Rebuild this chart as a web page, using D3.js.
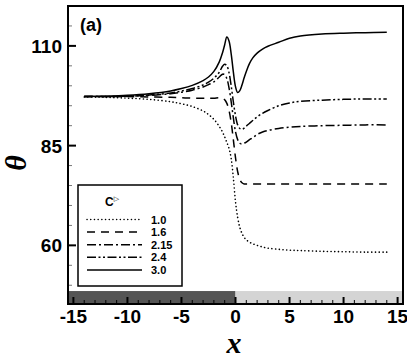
<!DOCTYPE html>
<html><head><meta charset="utf-8">
<script src="https://cdn.jsdelivr.net/npm/d3@7"></script>
<style>
html,body{margin:0;padding:0;background:#fff;}
svg{display:block;}
text{font-family:"Liberation Sans",Arial,sans-serif;}
</style></head>
<body>
<svg id="chart" width="407" height="361"></svg>
<script>
// ---- data ----
const xs = [-14,-12,-10,-8,-6,-5,-4,-3,-2.5,-2,-1.5,-1.2,-1,-0.8,-0.6,-0.4,-0.2,0,0.2,0.4,0.6,0.8,1,1.3,1.6,2,2.5,3,4,5,6,8,10,12,14];
const c10  = [97.2,97.1,96.9,96.6,96.0,95.5,94.8,93.7,92.8,91.6,89.8,88.4,87.2,85.8,84.3,81.8,77.0,71.0,67.0,64.5,63.0,62.0,61.4,60.8,60.4,60.0,59.6,59.3,59.0,58.8,58.7,58.5,58.4,58.3,58.3];
const c16  = [97.3,97.3,97.3,97.2,97.1,97.0,96.9,96.9,96.9,96.9,97.0,96.9,96.5,95.6,93.8,90.8,86.5,82.0,78.5,76.5,75.7,75.4,75.4,75.4,75.4,75.4,75.4,75.4,75.4,75.4,75.4,75.4,75.4,75.4,75.4];
const c215 = [97.3,97.3,97.4,97.6,98.0,98.4,98.9,99.7,100.3,101.0,102.2,102.9,102.8,101.8,99.5,96.0,92.0,88.5,86.5,85.6,85.4,85.6,85.9,86.5,87.0,87.8,88.4,88.8,89.3,89.6,89.8,90.0,90.1,90.2,90.2];
const c24  = [97.3,97.3,97.4,97.7,98.2,98.7,99.3,100.2,100.9,101.9,103.4,104.9,105.4,105.0,103.3,100.0,96.0,92.5,90.2,89.3,89.1,89.4,89.9,90.6,91.3,92.2,93.1,93.8,95.0,95.7,96.1,96.4,96.6,96.7,96.7];
const c30  = [97.3,97.4,97.6,98.0,98.7,99.3,100.1,101.3,102.2,103.6,106.0,108.3,110.3,112.2,111.2,108.0,103.5,99.8,98.3,98.8,100.2,102.0,103.6,105.6,107.0,108.2,109.2,109.9,110.9,111.9,112.5,113.0,113.2,113.3,113.4];
const seriesNames = ["1.0","1.6","2.15","2.4","3.0"];
const seriesValues = [c10,c16,c215,c24,c30];
const dashes = ["0.1,3.6","8,6","9,3,2,3","9,2.5,2,2.5,2,2.5",null];
const xTicks = [-15,-10,-5,0,5,10,15];
const yTicks = [60,85,110];

// ---- layout ----
const L=68, R=403, T=6, B=304;
const x = d3.scaleLinear().domain([-15.5,15.5]).range([L,R]);
const y = d3.scaleLinear().domain([45.3,120]).range([B,T]);
const svg = d3.select("#chart");

// band at bottom
const bandTop = y(48.55);
svg.append("rect").attr("x",L).attr("y",bandTop).attr("width",x(0)-L).attr("height",B-bandTop).attr("fill","#555555");
svg.append("rect").attr("x",x(0)).attr("y",bandTop).attr("width",R-x(0)).attr("height",B-bandTop).attr("fill","#d4d4d4");

// curves
const line = d3.line().x((d,i)=>x(xs[i])).y(d=>y(d)).curve(d3.curveCatmullRom.alpha(0.5));
seriesValues.forEach((vals,k)=>{
  svg.append("path").datum(vals).attr("d",line).attr("fill","none")
    .attr("stroke","#000").attr("stroke-width",k===0?1.6:1.5)
    .attr("stroke-linecap",k===0?"round":"butt")
    .attr("stroke-dasharray",dashes[k]);
});

// minor ticks x (inward)
const xMinor = d3.range(-15,15.01,1).filter(v=>v%5!==0);
svg.append("g").selectAll("line").data(xMinor).join("line")
  .attr("x1",d=>x(d)).attr("x2",d=>x(d)).attr("y1",B).attr("y2",B-4)
  .attr("stroke","#000").attr("stroke-width",1);
svg.append("g").selectAll("line").data(xTicks).join("line")
  .attr("x1",d=>x(d)).attr("x2",d=>x(d)).attr("y1",B).attr("y2",B-7)
  .attr("stroke","#000").attr("stroke-width",2);
// y ticks
const yMinor = d3.range(50,120,5).filter(v=>!yTicks.includes(v));
svg.append("g").selectAll("line").data(yMinor).join("line")
  .attr("x1",L).attr("x2",L+4).attr("y1",d=>y(d)).attr("y2",d=>y(d))
  .attr("stroke","#777").attr("stroke-width",1);
svg.append("g").selectAll("line").data(yTicks).join("line")
  .attr("x1",L).attr("x2",L+8).attr("y1",d=>y(d)).attr("y2",d=>y(d))
  .attr("stroke","#000").attr("stroke-width",2);

// frame
svg.append("rect").attr("x",L).attr("y",T).attr("width",R-L).attr("height",B-T)
  .attr("fill","none").attr("stroke","#000").attr("stroke-width",2);

// tick labels
svg.append("g").selectAll("text").data(xTicks).join("text")
  .attr("x",d=>x(d)).attr("y",323).attr("text-anchor","middle")
  .attr("font-size",19).attr("font-weight","bold").text(d=>d);
svg.append("g").selectAll("text").data(yTicks).join("text")
  .attr("x",62).attr("y",d=>y(d)+7).attr("text-anchor","end")
  .attr("font-size",19).attr("font-weight","bold").text(d=>d);

// axis titles
svg.append("text").attr("x",234).attr("y",353).attr("text-anchor","middle")
  .style("font-family","'Liberation Serif','Times New Roman',serif")
  .attr("font-size",30).attr("font-style","italic").attr("font-weight","bold").text("x");
svg.append("text").attr("transform","translate(26,163) rotate(-90)").attr("text-anchor","middle")
  .style("font-family","'Liberation Serif','Times New Roman',serif")
  .attr("font-size",30).attr("font-style","italic").attr("font-weight","bold").text("θ");

// panel label
svg.append("text").attr("x",80).attr("y",31).attr("font-size",18).attr("font-weight","bold").text("(a)");

// legend
const lg = svg.append("g");
lg.append("rect").attr("x",78).attr("y",185).attr("width",104).attr("height",101)
  .attr("fill","#fff").attr("stroke","#000").attr("stroke-width",1.5);
const tt = lg.append("text").attr("x",105).attr("y",206).attr("font-size",12).attr("font-weight","bold").attr("fill","#000");
tt.append("tspan").text("C");
tt.append("tspan").attr("dy",-5).attr("font-size",7).attr("font-weight","normal").attr("fill","#000")
  .style("font-family","'DejaVu Sans'").text("\u25B7\uFE0E");
seriesNames.forEach((n,k)=>{
  const cy = 219.5 + k*12.6;
  lg.append("line").attr("x1",87).attr("x2",142).attr("y1",cy).attr("y2",cy)
    .attr("stroke","#000").attr("stroke-width",1.5)
    .attr("stroke-linecap",k===0?"round":"butt")
    .attr("stroke-dasharray",dashes[k]);
  lg.append("text").attr("x",151).attr("y",cy+4).attr("font-size",11).attr("font-weight","bold").text(n);
});
</script>
</body></html>
